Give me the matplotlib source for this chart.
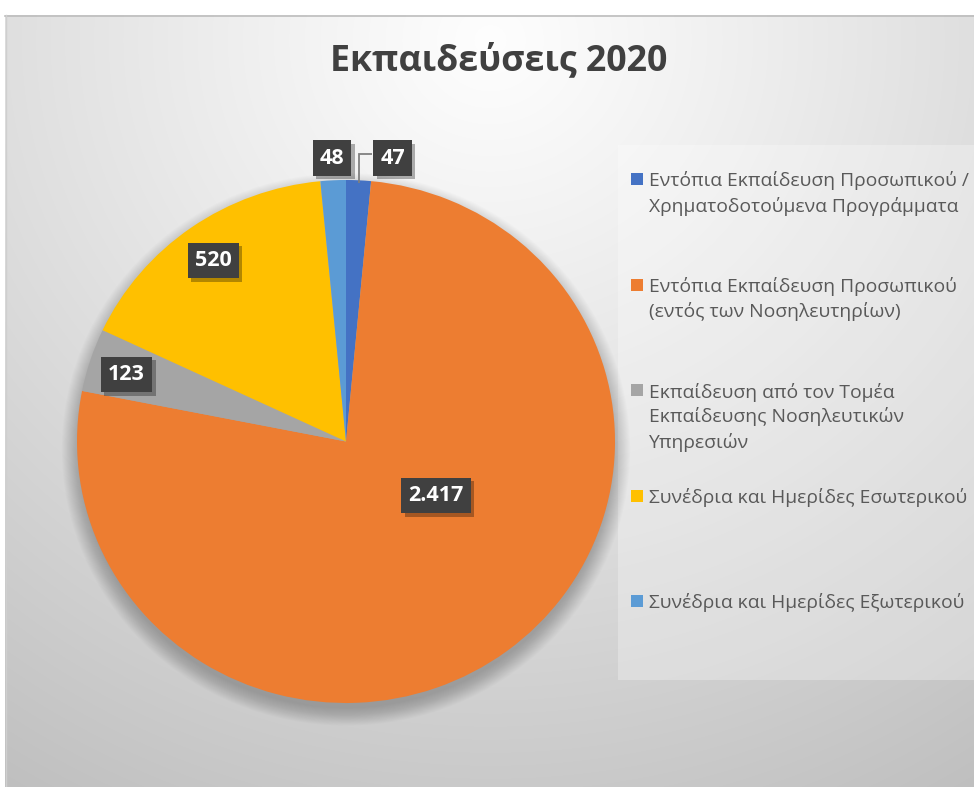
import numpy as np
import matplotlib
matplotlib.use('Agg')
import matplotlib.pyplot as plt
from matplotlib.patches import Rectangle, Circle
import matplotlib.patheffects as pe

# ---------------- data ----------------
title = "Εκπαιδεύσεις 2020"
categories = [
    "Εντόπια Εκπαίδευση Προσωπικού /\nΧρηματοδοτούμενα Προγράμματα",
    "Εντόπια Εκπαίδευση Προσωπικού\n(εντός των Νοσηλευτηρίων)",
    "Εκπαίδευση από τον Τομέα\nΕκπαίδευσης Νοσηλευτικών\nΥπηρεσιών",
    "Συνέδρια και Ημερίδες Εσωτερικού",
    "Συνέδρια και Ημερίδες Εξωτερικού",
]
values = [47, 2417, 123, 520, 48]
value_labels = ["47", "2.417", "123", "520", "48"]
colors = ["#4472C4", "#ED7D31", "#A5A5A5", "#FFC000", "#5B9BD5"]

# label anchor positions (pie-radius units, centre of pie = 0,0)
label_pos = [(0.173, 1.084), (0.335, -0.207), (-0.816, 0.256),
             (-0.494, 0.692), (-0.052, 1.084)]

FONT = ['Open Sans', 'DejaVu Sans']
plt.rcParams['font.family'] = FONT

W, H = 974, 787
fig = plt.figure(figsize=(W / 100, H / 100), dpi=100)
fig.patch.set_facecolor('white')

# ---------------- background ----------------
bg = fig.add_axes([0, 0, 1, 1])
bg.set_axis_off()
yy, xx = np.mgrid[0:H, 0:W]
d = np.hypot(xx - 490, (yy - 40) * 1.05)
v = np.clip(0.995 - 0.21 * (d / 800.0) ** 1.1, 0, 1)
img = np.dstack([v, v, v])
img[:15, :, :] = 1.0
img[:, :5, :] = 1.0
bg.imshow(img, extent=[0, W, H, 0], aspect='auto', interpolation='bilinear', zorder=0)
bg.set_xlim(0, W)
bg.set_ylim(H, 0)
bg.plot([5, W], [15.5, 15.5], color='#bdbdbd', lw=1.2, zorder=1)
bg.plot([5.5, 5.5], [15, H], color='#cfcfcf', lw=1.0, zorder=1)
# legend panel
bg.add_patch(Rectangle((618, 145), W - 618, 680 - 145, facecolor='white',
                       alpha=0.28, lw=0, zorder=2))

renderer = fig.canvas.get_renderer()


def fit_width(t, target):
    bb = t.get_window_extent(renderer)
    t.set_fontsize(t.get_fontsize() * target / bb.width)


# title
tt = bg.text(499, 61, title, ha='center', va='center', fontsize=30,
             fontweight='bold', color='#404040', zorder=5)
fit_width(tt, 338)

# legend (manual)
first_y = 179
step = 105.5
line_h = 25.0
fs_leg = None
for i, (lab, col) in enumerate(zip(categories, colors)):
    yc = first_y + i * step
    bg.add_patch(Rectangle((631, yc - 6), 12, 12, facecolor=col, lw=0, zorder=5))
    for k, line in enumerate(lab.split('\n')):
        t = bg.text(649, yc + k * line_h, line, ha='left', va='center_baseline',
                    fontsize=13, color='#595959', zorder=5)
        if fs_leg is None:
            fit_width(t, 318)
            fs_leg = t.get_fontsize()
        else:
            t.set_fontsize(fs_leg)

# ---------------- pie ----------------
cx, cy, RX, RY = 346, 441.5, 269, 261.5
ax = fig.add_axes([0, 0, 1, 1])
ax.patch.set_alpha(0)

# soft shadow
for i in range(20):
    ax.add_patch(Circle((0.0, -0.03), 0.99 + 0.0035 * i, facecolor='black',
                        alpha=0.012, lw=0, zorder=1))

wedges, _ = ax.pie(values, colors=colors, startangle=90, counterclock=False,
                   radius=1.0, center=(0, 0),
                   wedgeprops=dict(linewidth=0, zorder=3))
ax.set_aspect('auto')
ax.set_xlim(-cx / RX, (W - cx) / RX)
ax.set_ylim(-(H - cy) / RY, cy / RY)
ax.set_axis_off()

# leader line for first slice
total = float(sum(values))
mid0 = np.deg2rad(90 - values[0] / total * 360 / 2)
sx, sy = np.cos(mid0), np.sin(mid0)
lx, ly = label_pos[0]
ax.plot([sx, sx, lx - 0.076], [sy - 0.01, ly + 0.015, ly + 0.015], color='#7f7f7f',
        lw=1.3, zorder=4, solid_capstyle='butt', solid_joinstyle='miter')

for (px, py), lab in zip(label_pos, value_labels):
    t = ax.text(px, py, lab, ha='center', va='center', fontsize=15.5,
                fontweight='bold', color='white', zorder=6,
                bbox=dict(boxstyle='square,pad=0.33', facecolor='#404040',
                          edgecolor='none'))
    t.get_bbox_patch().set_path_effects(
        [pe.withSimplePatchShadow(offset=(2.5, -2.5), shadow_rgbFace='black', alpha=0.3)])

fig.savefig('out.png', dpi=100, facecolor=fig.get_facecolor())
